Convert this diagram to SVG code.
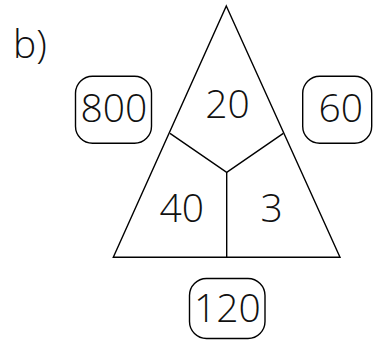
<svg xmlns="http://www.w3.org/2000/svg" width="373" height="349" viewBox="0 0 373 349">
<style>
.ln{fill:none;stroke:#000;stroke-width:1.4;stroke-linejoin:miter}
.bx{fill:#fff;stroke:#000;stroke-width:1.4}
.t{font-family:"Open Sans","Noto Sans",sans-serif;font-size:39px;font-weight:300;fill:#111;text-anchor:middle}
</style>
<rect width="373" height="349" fill="#fff"/>
<text class="t" x="13" y="58.3" style="text-anchor:start">b)</text>
<g id="triangle">
<polygon class="ln" points="226.3,6 340,257.3 113.3,257.3"/>
</g>
<g id="connectors">
<polyline class="ln" points="170,133.3 226.7,172.3 283.3,133.3"/>
<line class="ln" x1="226.7" y1="172.3" x2="226.7" y2="257.3"/>
</g>
<g id="n20"><text class="t" x="227.5" y="118.3">20</text></g>
<g id="n40"><text class="t" x="181.7" y="221.7">40</text></g>
<g id="n3"><text class="t" x="271.7" y="221.7">3</text></g>
<g id="n800"><rect class="bx" x="75.5" y="76.3" width="76" height="67" rx="17"/><text class="t" x="114" y="121.7">800</text></g>
<g id="n60"><rect class="bx" x="302.7" y="76.3" width="69" height="67" rx="17"/><text class="t" x="340.8" y="121.7">60</text></g>
<g id="n120"><rect class="bx" x="189.5" y="278.5" width="75.5" height="60" rx="17"/><text class="t" x="227.5" y="321.7">120</text></g>
</svg>
